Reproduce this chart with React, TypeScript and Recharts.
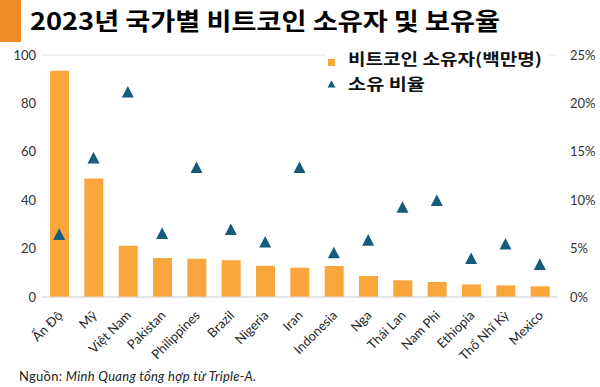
import React from "react";
import { ComposedChart, Bar, Line, XAxis, YAxis, CartesianGrid } from "recharts";

const countries = ["Ấn Độ", "Mỹ", "Việt Nam", "Pakistan", "Philippines", "Brazil", "Nigeria", "Iran", "Indonesia", "Nga", "Thái Lan", "Nam Phi", "Ethiopia", "Thổ Nhĩ Kỳ", "Mexico"];
const owners = [93.5, 49, 21.2, 16.1, 15.8, 15.2, 12.9, 12.1, 12.8, 8.7, 6.9, 6.2, 5.2, 4.8, 4.4];
const ownershipRate = [6.5, 14.4, 21.2, 6.6, 13.4, 7.0, 5.7, 13.4, 4.6, 5.9, 9.3, 10.0, 4.0, 5.5, 3.4];
const leftTicks = [0, 20, 40, 60, 80, 100];
const rightTicks = [0, 5, 10, 15, 20, 25];

const title = "2023년 국가별 비트코인 소유자 및 보유율";
const barName = "비트코인 소유자(백만명)";
const rateName = "소유 비율";
const sourceLabel = "Nguồn: ";
const sourceText = "Minh Quang tổng hợp từ Triple-A.";

const data = countries.map((c, i) => ({ country: c, owners: owners[i], rate: ownershipRate[i] }));

const ORANGE = "#F9A73C";
const BLUE = "#165C7B";
const FONT = "Lato, 'Noto Sans', sans-serif";
const KFONT = "'Noto Sans CJK KR', sans-serif";

const XTick = (props: any) => {
  const { x, y, payload } = props;
  return (
    <g transform={`translate(${x + 1},${y + 16})`}>
      <text transform="rotate(-45)" textAnchor="end" dy="0.35em" fontSize={13} fill="#262626" fontFamily={FONT}>
        {payload.value}
      </text>
    </g>
  );
};

const Triangle = (props: any) => {
  const { cx, cy } = props;
  if (cx == null || cy == null) return null;
  return (
    <polygon
      key={`t-${props.index}`}
      points={`${cx},${cy - 5.8} ${cx - 6},${cy + 5.8} ${cx + 6},${cy + 5.8}`}
      fill={BLUE}
    />
  );
};

export default function App() {
  return (
    <div style={{ position: "absolute", left: 0, top: 0, width: 600, height: 387, background: "#fff", overflow: "hidden" }}>
      <ComposedChart width={600} height={387} data={data} margin={{ top: 55, right: 0, bottom: 0, left: 0 }}>
        <CartesianGrid vertical={false} stroke="#E4E4E4" />
        <XAxis dataKey="country" interval={0} tick={<XTick />} tickLine={false} axisLine={{ stroke: "#D6D6D6" }} tickSize={0} tickMargin={0} height={90} />
        <YAxis yAxisId="left" domain={[0, 100]} ticks={leftTicks} width={42} tickLine={false} axisLine={false} tickSize={0} tickMargin={6} tick={{ fontSize: 13, fill: "#333", fontFamily: FONT }} />
        <YAxis yAxisId="right" orientation="right" domain={[0, 25]} ticks={rightTicks} width={43} tickLine={false} axisLine={false} tickSize={0} tickMargin={13} tickFormatter={(v: number) => `${v}%`} tick={{ fontSize: 13, fill: "#333", fontFamily: FONT, textAnchor: "start" }} />
        <Bar yAxisId="left" dataKey="owners" name={barName} fill={ORANGE} barSize={19} isAnimationActive={false} />
        <Line yAxisId="right" dataKey="rate" name={rateName} stroke="none" strokeWidth={0} dot={<Triangle />} activeDot={false} isAnimationActive={false} />
      </ComposedChart>
      <svg width={600} height={387} style={{ position: "absolute", left: 0, top: 0 }}>
        <rect x={0} y={0} width={21} height={42} fill="#F08A24" />
        <text x={30} y={30} fontFamily={KFONT} fontWeight={700} fontSize={24} fill="#000" textLength={470} lengthAdjust="spacingAndGlyphs">
          {title}
        </text>
        <rect x={326} y={49} width={222} height={46} fill="#fff" />
        <rect x={328} y={59} width={7} height={7} fill={ORANGE} />
        <text x={348} y={65} fontFamily={KFONT} fontWeight={700} fontSize={16} fill="#111" textLength={194} lengthAdjust="spacingAndGlyphs">
          {barName}
        </text>
        <polygon points="331.5,80.5 327.5,87.5 335.5,87.5" fill={BLUE} />
        <text x={348} y={90} fontFamily={KFONT} fontWeight={700} fontSize={16} fill="#111" textLength={77} lengthAdjust="spacingAndGlyphs">
          {rateName}
        </text>
        <text x={19} y={381} fontFamily={FONT} fontSize={13} fill="#222" textLength={237}>
          {sourceLabel}
          <tspan fontStyle="italic">{sourceText}</tspan>
        </text>
      </svg>
    </div>
  );
}
